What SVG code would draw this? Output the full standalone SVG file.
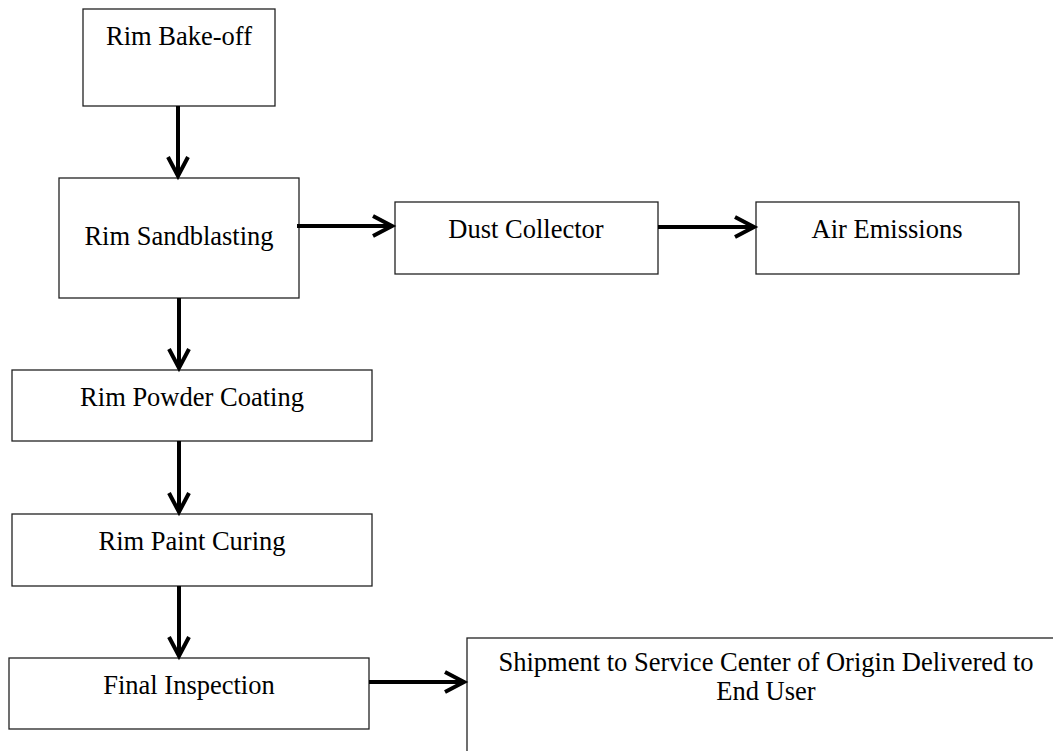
<svg xmlns="http://www.w3.org/2000/svg" width="1053" height="751" viewBox="0 0 1053 751">
  <style>
    .box { fill: #fff; stroke: #222; stroke-width: 1.3; }
    .lbl { font-family: "Liberation Serif", "Times New Roman", serif; font-size: 26.5px; fill: #000; text-anchor: middle; }
    .conn { stroke: #000; stroke-width: 4; fill: none; marker-end: url(#chev); }
  </style>
  <defs>
    <marker id="chev" markerUnits="userSpaceOnUse" viewBox="-24 -13 28 26" refX="0" refY="0" markerWidth="28" markerHeight="26" orient="auto" overflow="visible">
      <path d="M-19,-10 L0,0 L-19,10" fill="none" stroke="#000" stroke-width="4" stroke-linejoin="miter"/>
    </marker>
  </defs>
  <rect width="1053" height="751" fill="#fff"/>

  <g id="bakeoff">
    <rect class="box" x="83" y="9" width="192" height="97"/>
    <text class="lbl" x="179" y="45">Rim Bake-off</text>
  </g>
  <g id="sandblasting">
    <rect class="box" x="59" y="178" width="240" height="120"/>
    <text class="lbl" x="179" y="245">Rim Sandblasting</text>
  </g>
  <g id="dust">
    <rect class="box" x="395" y="202" width="263" height="72"/>
    <text class="lbl" x="526" y="238">Dust Collector</text>
  </g>
  <g id="air">
    <rect class="box" x="756" y="202" width="263" height="72"/>
    <text class="lbl" x="887" y="238">Air Emissions</text>
  </g>
  <g id="powder">
    <rect class="box" x="12" y="370" width="360" height="71"/>
    <text class="lbl" x="192" y="406">Rim Powder Coating</text>
  </g>
  <g id="curing">
    <rect class="box" x="12" y="514" width="360" height="72"/>
    <text class="lbl" x="192" y="550">Rim Paint Curing</text>
  </g>
  <g id="inspection">
    <rect class="box" x="9" y="658" width="360" height="71"/>
    <text class="lbl" x="189" y="694">Final Inspection</text>
  </g>
  <g id="shipment">
    <rect class="box" x="467" y="638" width="600" height="130"/>
    <text class="lbl" x="766" y="671">Shipment to Service Center of Origin Delivered to</text>
    <text class="lbl" x="766" y="700">End User</text>
  </g>

  <g id="connectors">
    <path class="conn" d="M178,106 V176"/>
    <path class="conn" d="M297,226 H392"/>
    <path class="conn" d="M658,227 H754"/>
    <path class="conn" d="M179,298 V368"/>
    <path class="conn" d="M179,441 V512"/>
    <path class="conn" d="M179,586 V656"/>
    <path class="conn" d="M369,682 H464"/>
  </g>
</svg>
